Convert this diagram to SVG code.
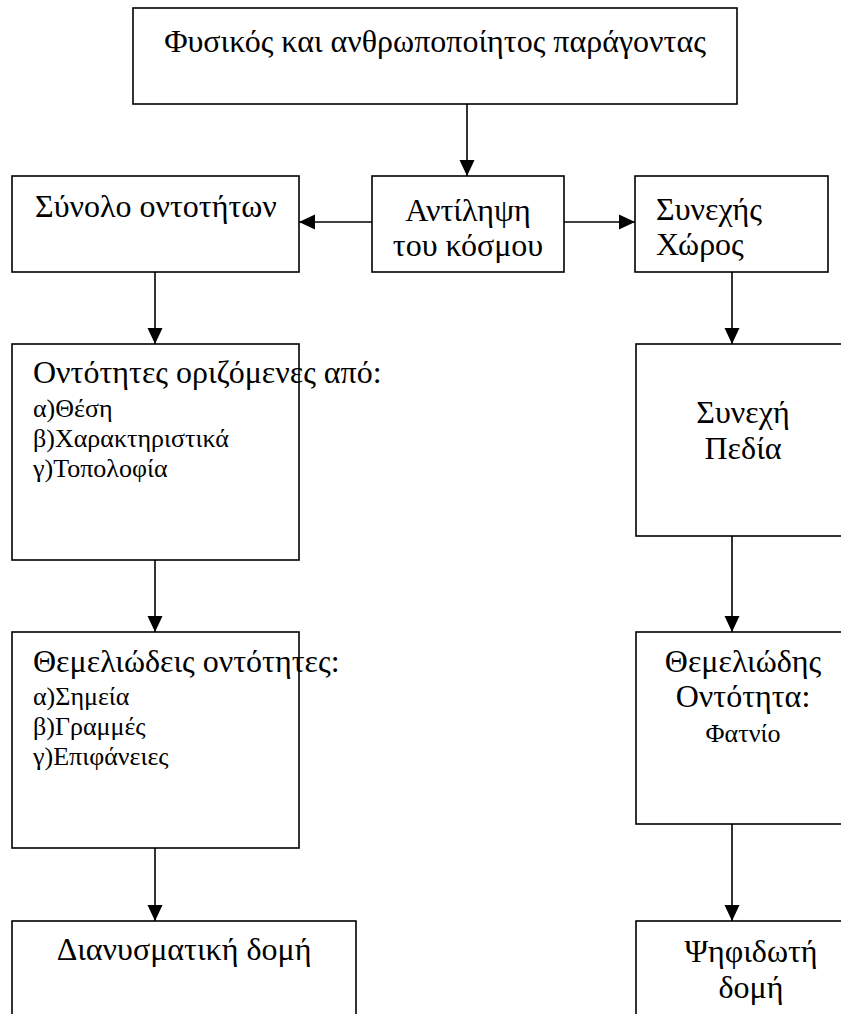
<svg xmlns="http://www.w3.org/2000/svg" width="841" height="1014" viewBox="0 0 841 1014">
  <style>
    .box { fill: #fff; stroke: #000; stroke-width: 1.6; }
    .t { font-family: "Liberation Serif", "Times New Roman", "DejaVu Serif", serif; font-size: 32px; fill: #000; }
    .s { font-size: 26px; }
    .c { text-anchor: middle; }
    .edge { stroke: #000; stroke-width: 1.6; fill: none; marker-end: url(#ah); }
  </style>
  <defs>
    <marker id="ah" markerUnits="userSpaceOnUse" markerWidth="16" markerHeight="16" viewBox="0 0 16 16" refX="16" refY="8" orient="auto">
      <path d="M0,0.5 L16,8 L0,15.5 Z" fill="#000"/>
    </marker>
  </defs>
  <rect width="841" height="1014" fill="#fff"/>

  <!-- connectors -->
  <g id="connectors">
    <line class="edge" x1="467" y1="104" x2="467" y2="176"/>
    <line class="edge" x1="372" y1="222" x2="299" y2="222"/>
    <line class="edge" x1="564" y1="222" x2="635" y2="222"/>
    <line class="edge" x1="155" y1="272" x2="155" y2="344"/>
    <line class="edge" x1="155" y1="560" x2="155" y2="632"/>
    <line class="edge" x1="155" y1="848" x2="155" y2="921"/>
    <line class="edge" x1="732" y1="272" x2="732" y2="344"/>
    <line class="edge" x1="732" y1="536" x2="732" y2="632"/>
    <line class="edge" x1="732" y1="824" x2="732" y2="921"/>
  </g>

  <g id="factors">
    <rect class="box" x="133" y="8" width="604" height="96"/>
    <text class="t c" x="435" y="52">Φυσικός και ανθρωποποίητος παράγοντας</text>
  </g>

  <g id="perception">
    <rect class="box" x="372" y="176" width="192" height="96"/>
    <text class="t c" x="468" y="221">Αντίληψη</text>
    <text class="t c" x="468" y="256">του κόσμου</text>
  </g>

  <g id="entity-set">
    <rect class="box" x="12" y="176" width="287" height="96"/>
    <text class="t" x="35" y="217">Σύνολο οντοτήτων</text>
  </g>

  <g id="continuous-space">
    <rect class="box" x="635" y="176" width="193" height="96"/>
    <text class="t" x="656" y="220">Συνεχής</text>
    <text class="t" x="656" y="255">Χώρος</text>
  </g>

  <g id="entities-defined">
    <rect class="box" x="12" y="344" width="287" height="216"/>
    <text class="t" x="33" y="383">Οντότητες οριζόμενες από:</text>
    <text class="t s" x="33" y="417">α)Θέση</text>
    <text class="t s" x="33" y="447">β)Χαρακτηριστικά</text>
    <text class="t s" x="33" y="477">γ)Τοπολοφία</text>
  </g>

  <g id="continuous-fields">
    <rect class="box" x="636" y="344" width="230" height="192"/>
    <text class="t c" x="743" y="423">Συνεχή</text>
    <text class="t c" x="743" y="459">Πεδία</text>
  </g>

  <g id="fundamental-entities">
    <rect class="box" x="12" y="632" width="287" height="216"/>
    <text class="t" x="33" y="672">Θεμελιώδεις οντότητες:</text>
    <text class="t s" x="33" y="705">α)Σημεία</text>
    <text class="t s" x="33" y="735">β)Γραμμές</text>
    <text class="t s" x="33" y="765">γ)Επιφάνειες</text>
  </g>

  <g id="fundamental-cell">
    <rect class="box" x="636" y="632" width="230" height="192"/>
    <text class="t c" x="743" y="672">Θεμελιώδης</text>
    <text class="t c" x="743" y="707">Οντότητα:</text>
    <text class="t s c" x="743" y="742">Φατνίο</text>
  </g>

  <g id="vector-structure">
    <rect class="box" x="12" y="921" width="344" height="110"/>
    <text class="t c" x="184" y="960">Διανυσματική δομή</text>
  </g>

  <g id="raster-structure">
    <rect class="box" x="636" y="921" width="230" height="110"/>
    <text class="t c" x="751" y="962">Ψηφιδωτή</text>
    <text class="t c" x="751" y="998">δομή</text>
  </g>
</svg>
